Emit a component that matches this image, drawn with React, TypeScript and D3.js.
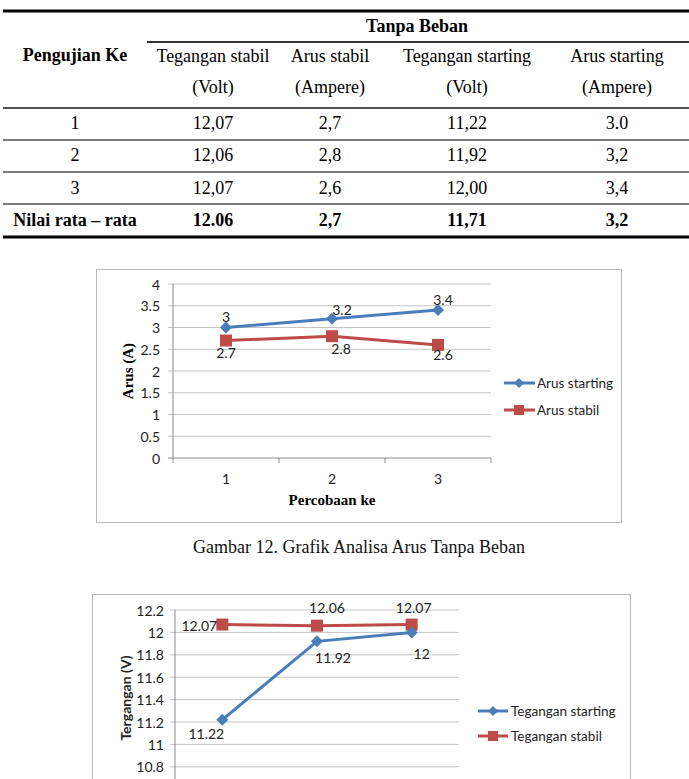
import React from "react";
import * as d3 from "d3";

// ---------- DATA ----------
const tableHeaders1 = ["Tegangan stabil", "Arus stabil", "Tegangan starting", "Arus starting"];
const tableHeaders2 = ["(Volt)", "(Ampere)", "(Volt)", "(Ampere)"];
const tableRowLabels = ["1", "2", "3", "Nilai rata – rata"];
const colTeganganStabil = ["12,07", "12,06", "12,07", "12.06"];
const colArusStabil = ["2,7", "2,8", "2,6", "2,7"];
const colTeganganStarting = ["11,22", "11,92", "12,00", "11,71"];
const colArusStarting = ["3.0", "3,2", "3,4", "3,2"];

const trials = ["1", "2", "3"];
const arusStarting = [3.0, 3.2, 3.4];
const arusStabil = [2.7, 2.8, 2.6];
const arusTicks = [0, 0.5, 1, 1.5, 2, 2.5, 3, 3.5, 4];

const teganganStarting = [11.22, 11.92, 12.0];
const teganganStabil = [12.07, 12.06, 12.07];
const teganganTicks = [10.8, 11, 11.2, 11.4, 11.6, 11.8, 12, 12.2];

// ---------- STYLE ----------
const BLUE = "#4a7ebb";
const RED = "#be4b48";
const GRID = "#c4c4c4";
const AXIS = "#8c8c8c";
const SANS = "Lato, 'Open Sans', sans-serif";
const SERIF = "'Liberation Serif', 'Times New Roman', serif";
const TICK_FS = 14;

const fmt = (v: number) => String(+v.toFixed(2));

function Diamond({ x, y, s = 6 }: { x: number; y: number; s?: number }) {
  return <path d={`M${x},${y - s}L${x + s},${y}L${x},${y + s}L${x - s},${y}Z`} fill={BLUE} />;
}
function Square({ x, y, s = 6 }: { x: number; y: number; s?: number }) {
  return <rect x={x - s} y={y - s} width={2 * s} height={2 * s} fill={RED} />;
}

function Table() {
  const colX = [75, 213, 330, 467, 617];
  const rowY = [123, 155, 188, 220];
  const cols = [colTeganganStabil, colArusStabil, colTeganganStarting, colArusStarting];
  return (
    <g fontFamily={SERIF} fontSize={18} fill="#000">
      <line x1={3} x2={689} y1={11} y2={11} stroke="#000" strokeWidth={3} />
      <text x={417} y={26} textAnchor="middle" dominantBaseline="central" fontWeight="bold">Tanpa Beban</text>
      <line x1={147} x2={689} y1={42} y2={42} stroke="#333" strokeWidth={2} />
      <text x={colX[0]} y={55} textAnchor="middle" dominantBaseline="central" fontWeight="bold">Pengujian Ke</text>
      {tableHeaders1.map((h, i) => (
        <text key={"h1" + i} x={colX[i + 1]} y={56} textAnchor="middle" dominantBaseline="central">{h}</text>
      ))}
      {tableHeaders2.map((h, i) => (
        <text key={"h2" + i} x={colX[i + 1]} y={87} textAnchor="middle" dominantBaseline="central">{h}</text>
      ))}
      <line x1={3} x2={689} y1={108} y2={108} stroke="#555" strokeWidth={2} />
      <line x1={3} x2={689} y1={140} y2={140} stroke="#555" strokeWidth={1.5} />
      <line x1={3} x2={689} y1={172} y2={172} stroke="#555" strokeWidth={1.5} />
      <line x1={3} x2={689} y1={204} y2={204} stroke="#555" strokeWidth={1.5} />
      <line x1={3} x2={689} y1={237} y2={237} stroke="#000" strokeWidth={3} />
      {tableRowLabels.map((r, i) => (
        <g key={"r" + i} fontWeight={i === 3 ? "bold" : "normal"}>
          <text x={colX[0]} y={rowY[i]} textAnchor="middle" dominantBaseline="central">{r}</text>
          {cols.map((c, j) => (
            <text key={j} x={colX[j + 1]} y={rowY[i]} textAnchor="middle" dominantBaseline="central">{c[i]}</text>
          ))}
        </g>
      ))}
    </g>
  );
}

function ArusChart() {
  const x = d3.scaleBand().domain(trials).range([173, 491]);
  const y = d3.scaleLinear().domain([0, 4]).range([458, 284]);
  const cx = (t: string) => (x(t) as number) + x.bandwidth() / 2;
  const line = d3.line<number>().x((_, i) => cx(trials[i])).y((v) => y(v));
  const blueOff = [[0, -11], [10, -9], [5, -11]];
  const redOff = [[0, 12], [9, 12], [5, 10]];
  return (
    <g>
      <rect x={96.5} y={269.5} width={525} height={253} fill="#fff" stroke="#b8b8b8" strokeWidth={1} />
      {arusTicks.map((t) => (
        <g key={t}>
          <line x1={168} x2={491} y1={y(t)} y2={y(t)} stroke={t === 0 ? AXIS : GRID} strokeWidth={1} />
          <text x={160} y={y(t)} textAnchor="end" dominantBaseline="central" fontFamily={SANS} fontSize={TICK_FS} fill="#222">{fmt(t)}</text>
        </g>
      ))}
      <line x1={173} x2={173} y1={284} y2={458} stroke={AXIS} />
      {[...trials.map((t) => x(t) as number), 491].map((v, i) => (
        <line key={i} x1={v} x2={v} y1={458} y2={463} stroke={AXIS} />
      ))}
      {trials.map((t) => (
        <text key={t} x={cx(t)} y={478} textAnchor="middle" dominantBaseline="central" fontFamily={SANS} fontSize={TICK_FS} fill="#222">{t}</text>
      ))}
      <text x={332} y={500} textAnchor="middle" dominantBaseline="central" fontFamily={SERIF} fontWeight="bold" fontSize={15}>Percobaan ke</text>
      <text transform={`translate(128,371) rotate(-90)`} textAnchor="middle" dominantBaseline="central" fontFamily={SERIF} fontWeight="bold" fontSize={15}>Arus (A)</text>
      <path d={line(arusStabil) || ""} fill="none" stroke={RED} strokeWidth={3} />
      <path d={line(arusStarting) || ""} fill="none" stroke={BLUE} strokeWidth={3} />
      {arusStabil.map((v, i) => <Square key={"s" + i} x={cx(trials[i])} y={y(v)} s={6} />)}
      {arusStarting.map((v, i) => <Diamond key={"d" + i} x={cx(trials[i])} y={y(v)} s={6} />)}
      {arusStarting.map((v, i) => (
        <text key={"lb" + i} x={cx(trials[i]) + blueOff[i][0]} y={y(v) + blueOff[i][1]} textAnchor="middle" dominantBaseline="central" fontFamily={SANS} fontSize={TICK_FS} fill="#222">{fmt(v)}</text>
      ))}
      {arusStabil.map((v, i) => (
        <text key={"lr" + i} x={cx(trials[i]) + redOff[i][0]} y={y(v) + redOff[i][1]} textAnchor="middle" dominantBaseline="central" fontFamily={SANS} fontSize={TICK_FS} fill="#222">{fmt(v)}</text>
      ))}
      <g fontFamily={SANS} fontSize={13.5} fill="#222">
        <line x1={504} x2={535} y1={383} y2={383} stroke={BLUE} strokeWidth={3} />
        <Diamond x={519} y={383} s={5} />
        <text x={537} y={383} dominantBaseline="central">Arus starting</text>
        <line x1={504} x2={535} y1={410} y2={410} stroke={RED} strokeWidth={3} />
        <Square x={519} y={410} s={5} />
        <text x={537} y={410} dominantBaseline="central">Arus stabil</text>
      </g>
    </g>
  );
}

function TeganganChart() {
  const x = d3.scaleBand().domain(trials).range([175, 459]);
  const y = d3.scaleLinear().domain([10.4, 12.2]).range([811.6, 610]);
  const cx = (t: string) => (x(t) as number) + x.bandwidth() / 2;
  const line = d3.line<number>().x((_, i) => cx(trials[i])).y((v) => y(v));
  const blueOff = [[-16, 14], [16, 16], [10, 21]];
  const redOff = [[-23, 1], [10, -18], [2, -17]];
  const gridVals = d3.range(10.4, 12.21, 0.2);
  return (
    <g>
      <rect x={92.5} y={594.5} width={538} height={240} fill="#fff" stroke="#b8b8b8" strokeWidth={1} />
      {gridVals.map((t, i) => (
        <line key={"g" + i} x1={170} x2={459} y1={y(t)} y2={y(t)} stroke={GRID} strokeWidth={1} />
      ))}
      {teganganTicks.map((t) => (
        <text key={t} x={164} y={y(t)} textAnchor="end" dominantBaseline="central" fontFamily={SANS} fontSize={TICK_FS} fill="#222">{fmt(t)}</text>
      ))}
      <line x1={175} x2={175} y1={610} y2={811.6} stroke={AXIS} />
      <text transform={`translate(125,698) rotate(-90)`} textAnchor="middle" dominantBaseline="central" fontFamily={SANS} fontWeight="bold" fontSize={14} fill="#222">Tergangan (V)</text>
      <path d={line(teganganStabil) || ""} fill="none" stroke={RED} strokeWidth={3} />
      <path d={line(teganganStarting) || ""} fill="none" stroke={BLUE} strokeWidth={3} />
      {teganganStabil.map((v, i) => <Square key={"s" + i} x={cx(trials[i])} y={y(v)} s={6} />)}
      {teganganStarting.map((v, i) => <Diamond key={"d" + i} x={cx(trials[i])} y={y(v)} s={6} />)}
      {teganganStarting.map((v, i) => (
        <text key={"lb" + i} x={cx(trials[i]) + blueOff[i][0]} y={y(v) + blueOff[i][1]} textAnchor="middle" dominantBaseline="central" fontFamily={SANS} fontSize={TICK_FS} fill="#222">{fmt(v)}</text>
      ))}
      {teganganStabil.map((v, i) => (
        <text key={"lr" + i} x={cx(trials[i]) + redOff[i][0]} y={y(v) + redOff[i][1]} textAnchor="middle" dominantBaseline="central" fontFamily={SANS} fontSize={TICK_FS} fill="#222">{fmt(v)}</text>
      ))}
      <g fontFamily={SANS} fontSize={13.5} fill="#222">
        <line x1={478} x2={508} y1={711} y2={711} stroke={BLUE} strokeWidth={3} />
        <Diamond x={493} y={711} s={5} />
        <text x={511} y={711} dominantBaseline="central">Tegangan starting</text>
        <line x1={478} x2={508} y1={736} y2={736} stroke={RED} strokeWidth={3} />
        <Square x={493} y={736} s={5} />
        <text x={511} y={736} dominantBaseline="central">Tegangan stabil</text>
      </g>
    </g>
  );
}

export default function App() {
  return (
    <div style={{ position: "absolute", left: 0, top: 0, width: 689, height: 779, overflow: "hidden", background: "#fff" }}>
      <svg width={689} height={779} viewBox="0 0 689 779" style={{ display: "block" }}>
        <rect width={689} height={779} fill="#fff" />
        <Table />
        <ArusChart />
        <text x={359} y={547} textAnchor="middle" dominantBaseline="central" fontFamily={SERIF} fontSize={18} fill="#111">Gambar 12. Grafik Analisa Arus Tanpa Beban</text>
        <TeganganChart />
      </svg>
    </div>
  );
}
